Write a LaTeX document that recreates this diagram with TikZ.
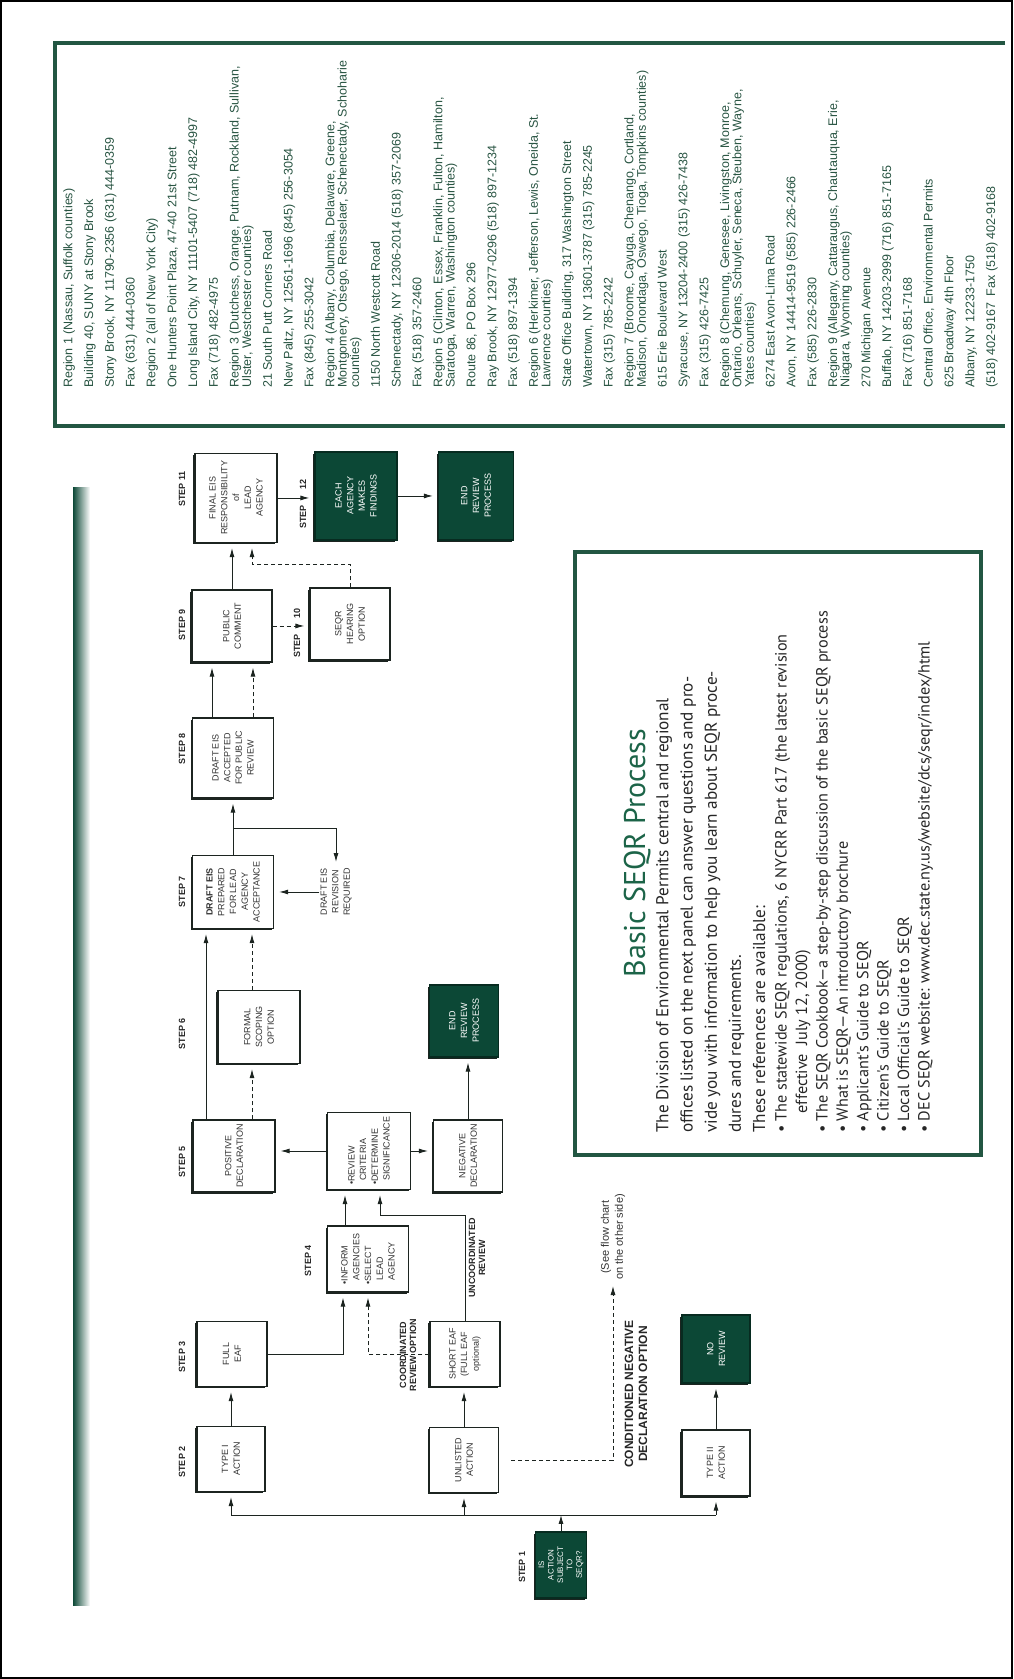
\documentclass[tikz,border=0pt]{standalone}
\usepackage{fontspec}
\setmainfont{Liberation Sans}
\newfontfamily\seqrfont{PT Sans}
\usepackage{tikz}
\usetikzlibrary{arrows.meta,calc,positioning,shadows}

\definecolor{deepgreen}{RGB}{12,72,54}
\definecolor{panelgreen}{RGB}{34,86,66}
\definecolor{addrgreen}{RGB}{40,84,66}
\definecolor{titlegreen}{RGB}{28,100,72}
\definecolor{boxline}{RGB}{28,36,32}

\tikzset{
	flowbox/.style={draw=boxline, line width=1.2pt, fill=white, text=black!80, align=center, inner sep=1pt, font=\fontsize{9}{11.7}\selectfont,
		drop shadow={shadow xshift=-1.6pt, shadow yshift=-1.6pt, opacity=1, fill=boxline}},
	darkflowbox/.style={flowbox, fill=deepgreen, draw=deepgreen!60!black, text=white},
	steplabel/.style={inner sep=1pt, text=black!85, font=\bfseries\fontsize{9}{10}\selectfont},
	notelabel/.style={inner sep=1pt, align=center, text=black!85, font=\bfseries\fontsize{9}{10}\selectfont},
	arr/.style={draw=boxline, line width=0.9pt, -{Latex[length=9pt,width=5pt]}, shorten >=5pt},
	dasharr/.style={arr, dash pattern=on 4pt off 3pt},
}

\begin{document}
\begin{tikzpicture}[x=1pt, y=1pt, rotate=90, transform shape]
	\useasboundingbox (0,-1013) rectangle (1679,0);
	\draw[line width=2pt] (1,-1) rectangle (1678,-1012);

	% address panel
	\draw[panelgreen, line width=3.5pt] (1636,-1005) -- (1636,-55) -- (1253,-55) -- (1253,-1005);
	\node[anchor=north west, align=left, inner sep=0pt, text=addrgreen, font=\fontsize{12.5}{12.4}\selectfont] (addresses) at (1291,-63) {%
		Region 1 (Nassau, Suffolk counties)\\[8.4pt]
		Building 40, SUNY at Stony Brook\\[8.4pt]
		Stony Brook, NY 11790-2356 (631) 444-0359\\[8.4pt]
		Fax (631) 444-0360\\[8.4pt]
		Region 2 (all of New York City)\\[8.4pt]
		One Hunters Point Plaza, 47-40 21st Street\\[8.4pt]
		Long Island City, NY 11101-5407 (718) 482-4997\\[8.4pt]
		Fax (718) 482-4975\\[8.4pt]
		Region 3 (Dutchess, Orange, Putnam, Rockland, Sullivan,\\
		Ulster, Westchester counties)\\[8.4pt]
		21 South Putt Corners Road\\[8.4pt]
		New Paltz, NY 12561-1696 (845) 256-3054\\[8.4pt]
		Fax (845) 255-3042\\[8.4pt]
		Region 4 (Albany, Columbia, Delaware, Greene,\\
		Montgomery, Otsego, Rensselaer, Schenectady, Schoharie\\
		counties)\\[8.4pt]
		1150 North Westcott Road\\[8.4pt]
		Schenectady, NY 12306-2014 (518) 357-2069\\[8.4pt]
		Fax (518) 357-2460\\[8.4pt]
		Region 5 (Clinton, Essex, Franklin, Fulton, Hamilton,\\
		Saratoga, Warren, Washington counties)\\[8.4pt]
		Route 86, PO Box 296\\[8.4pt]
		Ray Brook, NY 12977-0296 (518) 897-1234\\[8.4pt]
		Fax (518) 897-1394\\[8.4pt]
		Region 6 (Herkimer, Jefferson, Lewis, Oneida, St.\\
		Lawrence counties)\\[8.4pt]
		State Office Building, 317 Washington Street\\[8.4pt]
		Watertown, NY 13601-3787 (315) 785-2245\\[8.4pt]
		Fax (315) 785-2242\\[8.4pt]
		Region 7 (Broome, Cayuga, Chenango, Cortland,\\
		Madison, Onondaga, Oswego, Tioga, Tompkins counties)\\[8.4pt]
		615 Erie Boulevard West\\[8.4pt]
		Syracuse, NY 13204-2400 (315) 426-7438\\[8.4pt]
		Fax (315) 426-7425\\[8.4pt]
		Region 8 (Chemung, Genesee, Livingston, Monroe,\\
		Ontario, Orleans, Schuyler, Seneca, Steuben, Wayne,\\
		Yates counties)\\[8.4pt]
		6274 East Avon-Lima Road\\[8.4pt]
		Avon, NY 14414-9519 (585) 226-2466\\[8.4pt]
		Fax (585) 226-2830\\[8.4pt]
		Region 9 (Allegany, Cattaraugus, Chautauqua, Erie,\\
		Niagara, Wyoming counties)\\[8.4pt]
		270 Michigan Avenue\\[8.4pt]
		Buffalo, NY 14203-2999 (716) 851-7165\\[8.4pt]
		Fax (716) 851-7168\\[8.4pt]
		Central Office, Environmental Permits\\[8.4pt]
		625 Broadway 4th Floor\\[8.4pt]
		Albany, NY 12233-1750\\[8.4pt]
		(518) 402-9167\enspace Fax (518) 402-9168};

	% fading bar
	\shade[left color=deepgreen, middle color=deepgreen!45, right color=white] (73,-73) rectangle (1191,-90);

	% Basic SEQR Process panel
	\draw[panelgreen, line width=3.5pt] (524,-575) rectangle (1127,-981);
	\node[anchor=base, inner sep=0pt, text=titlegreen, font=\seqrfont\fontsize{30}{32}\selectfont] (title) at (826,-645) {Basic SEQR Process};
	\node[anchor=north west, align=left, inner sep=0pt, text=black!85, font=\seqrfont\fontsize{17.2}{24.2}\selectfont] (intro) at (546,-656) {%
		The Division of Environmental Permits central and regional\\
		offices listed on the next panel can answer questions and pro-\\
		vide you with information to help you learn about SEQR proce-\\
		dures and requirements.\\
		These references are available:};
	\node[anchor=north west, align=left, inner sep=0pt, text=black!85, font=\seqrfont\fontsize{16.2}{20.4}\selectfont] (refs) at (546,-775) {%
		\textbullet\ The statewide SEQR regulations, 6 NYCRR Part 617 (the latest revision\\
		\hspace*{1.2em}effective\ \ July 12, 2000)\\
		\textbullet\ The SEQR Cookbook\textemdash a step-by-step discussion of the basic SEQR process\\
		\textbullet\ What is SEQR\textemdash An introductory brochure\\
		\textbullet\ Applicant's Guide to SEQR\\
		\textbullet\ Citizen's Guide to SEQR\\
		\textbullet\ Local Official's Guide to SEQR\\
		\textbullet\ DEC SEQR website: www.dec.state.ny.us/website/dcs/seqr/index/html};

	% steps 1 to 4
	\node[darkflowbox, minimum width=66pt, minimum height=51pt, font=\fontsize{8}{9.4}\selectfont] (step1) at (114,-561) {IS\\ACTION\\SUBJECT\\TO\\SEQR?};
	\node[flowbox, minimum width=65pt, minimum height=68pt] (type1) at (220,-231) {TYPE I\\ACTION};
	\node[flowbox, minimum width=65pt, minimum height=69pt] (unlisted) at (219,-464) {UNLISTED\\ACTION};
	\node[flowbox, minimum width=66pt, minimum height=68pt] (type2) at (216,-716) {TYPE II\\ACTION};
	\node[darkflowbox, minimum width=68pt, minimum height=68pt] (noreview) at (330,-716) {NO\\REVIEW};
	\node[flowbox, minimum width=65pt, minimum height=70pt] (fulleaf) at (325,-232) {FULL\\EAF};
	\node[flowbox, minimum width=65pt, minimum height=70pt] (shorteaf) at (325,-465) {SHORT EAF\\(FULL EAF\\optional)};
	\node[flowbox, minimum width=66pt, minimum height=81pt, align=left] (inform) at (420,-368) {\textbullet INFORM\\\hspace*{4pt}AGENCIES\\\textbullet SELECT\\\hspace*{4pt}LEAD\\\hspace*{4pt}AGENCY};

	% steps 5 to 7
	\node[flowbox, minimum width=77pt, minimum height=83pt, align=left] (review) at (528,-369) {\textbullet REVIEW\\\hspace*{4pt}CRITERIA\\\textbullet DETERMINE\\\hspace*{4pt}SIGNIFICANCE};
	\node[flowbox, minimum width=72pt, minimum height=82pt] (positive) at (523,-234) {POSITIVE\\DECLARATION};
	\node[flowbox, minimum width=72pt, minimum height=69pt] (negative) at (523,-468) {NEGATIVE\\DECLARATION};
	\node[darkflowbox, minimum width=72pt, minimum height=69pt] (endneg) at (658,-464) {END\\REVIEW\\PROCESS};
	\node[flowbox, minimum width=73pt, minimum height=82pt] (scoping) at (652,-259) {FORMAL\\SCOPING\\OPTION};
	\node[flowbox, minimum width=73pt, minimum height=81pt] (drafteis) at (787,-233) {\textbf{DRAFT EIS}\\PREPARED\\FOR LEAD\\AGENCY\\ACCEPTANCE};
	\node[align=center, inner sep=1pt, text=black!80, font=\fontsize{9}{11.5}\selectfont] (revision) at (787,-336) {DRAFT EIS\\REVISION\\REQUIRED};

	% steps 8 to 12
	\node[flowbox, minimum width=80pt, minimum height=81pt] (accepted) at (921,-233) {DRAFT EIS\\ACCEPTED\\FOR PUBLIC\\REVIEW};
	\node[flowbox, minimum width=72pt, minimum height=80pt] (public) at (1053,-232) {PUBLIC\\COMMENT};
	\node[flowbox, minimum width=72pt, minimum height=80pt] (hearing) at (1055,-350) {SEQR\\HEARING\\OPTION};
	\node[flowbox, minimum width=89pt, minimum height=82pt] (finaleis) at (1181,-236) {FINAL EIS\\RESPONSIBILITY\\of\\LEAD\\AGENCY};
	\node[darkflowbox, minimum width=88pt, minimum height=82pt] (findings) at (1183,-356) {EACH\\AGENCY\\MAKES\\FINDINGS};
	\node[darkflowbox, minimum width=88pt, minimum height=75pt] (endfinal) at (1183,-476) {END\\REVIEW\\PROCESS};

	% step labels
	\node[steplabel] (s1) at (112,-522) {STEP 1};
	\node[steplabel] (s2) at (217,-182) {STEP 2};
	\node[steplabel] (s3) at (322,-182) {STEP 3};
	\node[steplabel] (s4) at (418,-308) {STEP 4};
	\node[steplabel] (s5) at (517,-182) {STEP 5};
	\node[steplabel] (s6) at (645,-182) {STEP 6};
	\node[steplabel] (s7) at (787,-182) {STEP 7};
	\node[steplabel] (s8) at (930,-182) {STEP 8};
	\node[steplabel] (s9) at (1054,-182) {STEP 9};
	\node[steplabel, anchor=east] (s10a) at (1046,-297) {STEP};
	\node[steplabel, anchor=west] (s10b) at (1059,-297) {10};
	\node[steplabel] (s11) at (1190,-182) {STEP 11};
	\node[steplabel, anchor=east] (s12a) at (1175,-303) {STEP};
	\node[steplabel, anchor=west] (s12b) at (1188,-303) {12};

	% connector labels
	\node[notelabel] (coordlbl) at (324,-408) {COORDINATED\\REVIEW OPTION};
	\node[notelabel] (uncoordlbl) at (421,-477) {UNCOORDINATED\\REVIEW};
	\node[notelabel, font=\bfseries\fontsize{12}{14}\selectfont] (condlbl) at (285,-636) {CONDITIONED NEGATIVE\\DECLARATION OPTION};
	\node[align=center, inner sep=1pt, text=black!80, font=\fontsize{11}{14}\selectfont] (seenote) at (442,-613) {(See flow chart\\on the other side)};

	% step 1 fans out to the three kinds of action
	\coordinate (bus) at (164,0);
	\draw[draw=boxline, line width=0.9pt] (bus |- type1) -- (bus |- type2);
	\draw[arr, shorten >=0pt] (step1.east) -- (step1.east -| bus);
	\draw[arr] (bus |- type1) -- (type1.west);
	\draw[arr] (bus |- unlisted) -- (unlisted.west);
	\draw[arr] (bus |- type2) -- (type2.west);
	\draw[arr] (type1.east) -- (type1.east -| fulleaf.west);
	\draw[arr] (unlisted.east) -- (unlisted.east -| shorteaf.west);
	\draw[arr] (type2.east) -- (type2.east -| noreview.west);
	\draw[dasharr, shorten <=12pt] (unlisted.south) |- (seenote.west);

	% EAF to review
	\draw[arr] (fulleaf.south) |- ($(inform.west)+(0,25)$);
	\draw[dasharr] (shorteaf.north) |- (inform.west);
	\draw[arr] ($(inform.east)+(0,23)$) -- ($(review.west)+(0,24)$);
	\draw[arr] (shorteaf.east) -- ++(105,0) |- ($(review.west)+(0,-11)$);
	\draw[arr] (review.north) -- (review.north |- positive.south);
	\draw[arr] (review.south) -- (review.south |- negative.north);
	\draw[arr] (negative.east) -- (negative.east -| endneg.west);

	% positive declaration to draft EIS
	\draw[dasharr] ($(positive.east)+(0,-18)$) -- ($(scoping.west)+(0,7)$);
	\draw[arr] ($(positive.east)+(0,28)$) -- ($(drafteis.west)+(0,27)$);
	\draw[dasharr] ($(scoping.east)+(0,7)$) -- ($(drafteis.west)+(0,-19)$);
	\draw[arr] (revision.north) -- (revision.north |- drafteis.south);
	\path (drafteis.east) -- (accepted.west) coordinate[pos=0.47] (split);
	\draw[arr] (drafteis.east) -- (accepted.west);
	\draw[arr] (split) |- (revision.east);

	% public review to findings
	\draw[arr] ($(accepted.east)+(0,21)$) -- ($(public.west)+(0,20)$);
	\draw[dasharr] ($(accepted.east)+(0,-20)$) -- ($(public.west)+(0,-21)$);
	\draw[arr] (public.east) -- (public.east -| finaleis.west);
	\draw[dasharr] (public.south) -- (public.south |- hearing.north);
	\draw[dasharr] (hearing.east) -- ++(23,0) |- ($(finaleis.west)+(0,-16)$);
	\draw[arr] (finaleis.south) -- (finaleis.south |- findings.north);
	\draw[arr] (findings.south) -- (endfinal.north);
\end{tikzpicture}
\end{document}
